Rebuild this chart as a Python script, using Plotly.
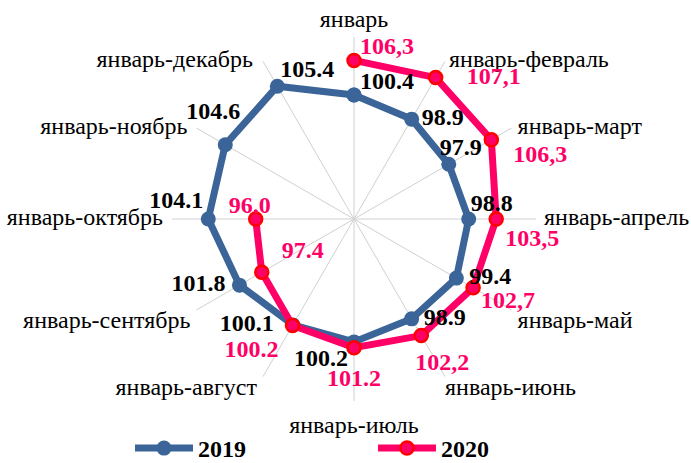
import plotly.graph_objects as go

categories = ["январь", "январь-февраль", "январь-март", "январь-апрель", "январь-май",
              "январь-июнь", "январь-июль", "январь-август", "январь-сентябрь",
              "январь-октябрь", "январь-ноябрь", "январь-декабрь"]

values_2019 = [100.4, 98.9, 97.9, 98.8, 99.4, 98.9, 100.2, 100.1, 101.8, 104.1, 104.6, 105.4]
labels_2019 = ["100.4", "98.9", "97.9", "98.8", "99.4", "98.9", "100.2", "100.1", "101.8",
               "104.1", "104.6", "105.4"]

values_2020 = [106.3, 107.1, 106.3, 103.5, 102.7, 102.2, 101.2, 100.2, 97.4, 96.0]
labels_2020 = ["106,3", "107,1", "106,3", "103,5", "102,7", "102,2", "101.2", "100.2", "97.4", "96.0"]

R_RANGE = [79.2, 110.3]

# размещение подписей: (позиция, отступ от точки, пробелы слева, пробелы справа)
place_cat = [("top center", 4, 0, 0), ("middle right", 4, 0, 0), ("middle right", 6, 0, 0),
             ("middle right", 8, 0, 0), ("bottom right", 0, 1, 0), ("bottom right", 0, 0, 0),
             ("bottom center", 14, 0, 0), ("bottom left", 0, 0, 1), ("bottom left", 0, 0, 1),
             ("middle left", 9, 0, 0), ("middle left", 9, 0, 0), ("middle left", 10, 0, 0)]
place_2019 = [("top right", 0, 1, 0), ("middle right", 10, 0, 0), ("top center", 3, 4, 0),
              ("top right", 2, 0, 0), ("middle right", 13, 0, 0), ("middle right", 12, 0, 0),
              ("bottom left", 6, 0, 0), ("middle left", 19, 0, 0), ("middle left", 14, 0, 0),
              ("top left", 5, 0, 0), ("top center", 20, 0, 4), ("top right", 3, 0, 0)]
place_2020 = [("top right", 0, 1, 0), ("middle right", 31, 0, 0), ("bottom right", 4, 3, 0),
              ("bottom right", 9, 0, 0), ("bottom right", 2, 1, 0), ("bottom center", 16, 7, 0),
              ("bottom center", 20, 0, 0), ("bottom left", 14, 0, 0), ("top right", 8, 2, 0),
              ("top center", 0, 0, 2)]

BLUE = "#3B6598"
PINK = "#FF0066"
SERIF = "Liberation Serif, Times New Roman, serif"
FS = 24
NB = "\u00a0"


def label_trace(values, labels, place, color, weight="bold"):
    pos = [p[0] for p in place]
    # plotly: отступ текста = size / 1.6 + 1
    sizes = [0 if p[1] == 0 else (p[1] - 1) * 1.6 for p in place]
    texts = [NB * p[2] + t + NB * p[3] for t, p in zip(labels, place)]
    return go.Scatterpolar(
        r=values, theta=categories[:len(values)],
        mode="markers+text", text=texts, textposition=pos,
        textfont=dict(family=SERIF, size=FS, color=color, weight=weight),
        marker=dict(size=sizes, opacity=0),
        showlegend=False, hoverinfo="skip", cliponaxis=False,
    )


fig = go.Figure()

# 2019 замкнутый контур
fig.add_trace(go.Scatterpolar(
    r=values_2019 + values_2019[:1],
    theta=categories + categories[:1],
    name="2019",
    mode="lines+markers",
    line=dict(color=BLUE, width=7),
    marker=dict(color=BLUE, size=15),
))

fig.add_trace(go.Scatterpolar(
    r=values_2020,
    theta=categories[:len(values_2020)],
    name="2020",
    mode="lines+markers",
    line=dict(color=PINK, width=7),
    marker=dict(color=PINK, size=13, line=dict(color="#FF0000", width=2.5)),
))

# названия категорий у концов лучей
fig.add_trace(label_trace([R_RANGE[1]] * len(categories), categories, place_cat, "black", "normal"))
fig.add_trace(label_trace(values_2019, labels_2019, place_2019, "black"))
fig.add_trace(label_trace(values_2020, labels_2020, place_2020, PINK))

fig.update_layout(
    width=691, height=463,
    margin=dict(l=0, r=0, t=0, b=0, autoexpand=False),
    paper_bgcolor="white",
    font=dict(family=SERIF, color="black"),
    polar=dict(
        domain=dict(x=[(354 - 182) / 691, (354 + 182) / 691],
                    y=[(463 - 219 - 182) / 463, (463 - 219 + 182) / 463]),
        bgcolor="white",
        radialaxis=dict(range=R_RANGE, visible=False),
        angularaxis=dict(direction="clockwise", rotation=90, showline=False,
                         gridcolor="#D0D0D0", gridwidth=1, ticks="", showticklabels=False),
    ),
    showlegend=True,
    legend=dict(orientation="h", x=130 / 691, xanchor="left", y=-8 / 463, yanchor="bottom",
                itemwidth=58, entrywidth=170, bgcolor="rgba(0,0,0,0)",
                font=dict(family=SERIF, size=FS, color="black", weight="bold")),
)

fig.write_html("out.html", config={"displayModeBar": False},
               post_script="document.body.style.margin='0';")
